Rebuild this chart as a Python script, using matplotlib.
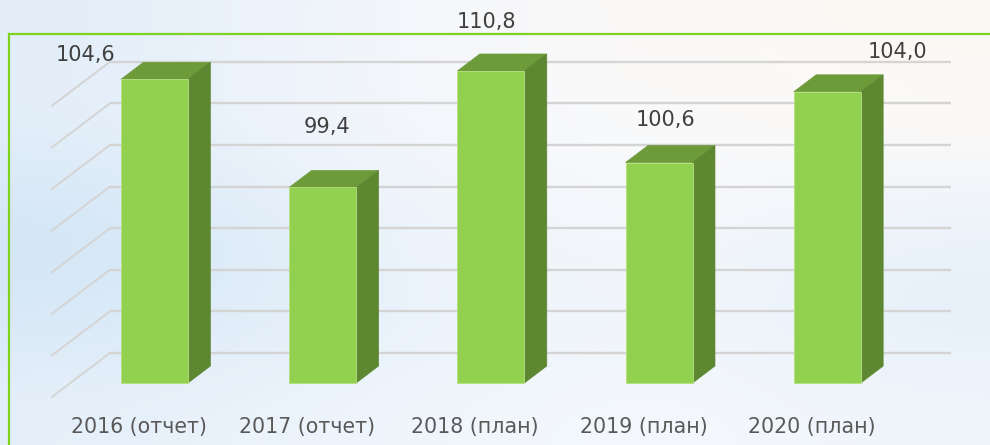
import numpy as np
import matplotlib
matplotlib.use('Agg')
import matplotlib.pyplot as plt
from matplotlib.patches import Polygon
from matplotlib.colors import to_rgb

# Data
categories = ['2016 (отчет)', '2017 (отчет)', '2018 (план)', '2019 (план)', '2020 (план)']
values = [104.6, 99.4, 110.8, 100.6, 104.0]
value_labels = ['104,6', '99,4', '110,8', '100,6', '104,0']
grid_ticks = [90, 92, 94, 96, 98, 100, 102, 104]
AXIS_MIN, AXIS_MAX = 90, 105

# Layout (pixels)
W, H = 990, 445
PX_CAT = 168.2      # pixels per category
PX_VAL = 20.8       # pixels per value unit
X0_PX = 136.0       # first category centre on the front floor edge
BASE_PX = 397       # AXIS_MIN on the front floor edge
DX = 58 / PX_CAT    # full floor depth
DY = 44 / PX_VAL
Z_FRONT, Z_BACK = 14 / 44, 31 / 44
BAR_W = 67 / PX_CAT

# label offsets from bar top (px): manual placement like in the source
label_dx = [-69, 4, -4.5, 6.5, 70.5]
label_dy = [24, 60.5, 48.5, 43, 40]

FRONT = '#92d050'
TOP = '#6e9b3a'
SIDE = '#5e8732'
GRID = '#d4d4d4'

plt.rcParams['font.family'] = ['DejaVu Sans']

fig = plt.figure(figsize=(W / 100, H / 100), dpi=100)

# background gradient
bg_rows = [
    ['#e3eef9', '#eef4fb', '#f8f8fa', '#fcf9f6', '#fdf8f4'],
    ['#e4eff9', '#f0f5fb', '#f7f9fc', '#fbfbfb', '#fcfaf8'],
    ['#d1e5f6', '#e4eff9', '#f2f6fb', '#f6f8fb', '#ecf3fa'],
    ['#d7e8f7', '#e2eef9', '#eef4fb', '#f2f6fb', '#e4eff9'],
    ['#e6f0fa', '#edf4fb', '#f2f7fc', '#f5f8fc', '#f0f5fb'],
]
bg_img = np.array([[to_rgb(c) for c in row] for row in bg_rows])
bg = fig.add_axes([0, 0, 1, 1])
bg.imshow(bg_img, aspect='auto', extent=[0, 1, 0, 1], interpolation='bicubic')
bg.axis('off')

ax = fig.add_axes([0, 0, 1, 1])
ax.patch.set_alpha(0)
ax.set_xlim(-X0_PX / PX_CAT, (W - X0_PX) / PX_CAT)
ax.set_ylim(AXIS_MIN - (H - BASE_PX) / PX_VAL, AXIS_MIN + BASE_PX / PX_VAL)
ax.axis('off')


def proj(x, v, z):
    return x + z * DX, v + z * DY


n = len(categories)
x = np.arange(n)
left_edge, right_edge = -0.5, n - 0.5

# back wall grid and left wall lines
for t in grid_ticks:
    p0 = proj(left_edge, t, 1)
    p1 = proj(right_edge, t, 1)
    ax.plot([p0[0], p1[0]], [p0[1], p1[1]], color=GRID, lw=1.7, zorder=1,
            solid_capstyle='butt')
    q = proj(left_edge, t, 0)
    ax.plot([p0[0], q[0]], [p0[1], q[1]], color=GRID, lw=1.4, zorder=1)

# bars
tops = np.minimum(values, AXIS_MAX)
xf, bf = proj(x, AXIS_MIN, Z_FRONT)
ax.bar(xf, tops - AXIS_MIN, width=BAR_W, bottom=bf, color=FRONT,
       edgecolor='#b3e07f', linewidth=0.6, zorder=3)

for i in range(n):
    xl, xr = x[i] - BAR_W / 2, x[i] + BAR_W / 2
    top_face = [proj(xl, tops[i], Z_FRONT), proj(xr, tops[i], Z_FRONT),
                proj(xr, tops[i], Z_BACK), proj(xl, tops[i], Z_BACK)]
    side_face = [proj(xr, AXIS_MIN, Z_FRONT), proj(xr, tops[i], Z_FRONT),
                 proj(xr, tops[i], Z_BACK), proj(xr, AXIS_MIN, Z_BACK)]
    ax.add_patch(Polygon(top_face, closed=True, facecolor=TOP, edgecolor=TOP,
                         lw=0.5, zorder=2))
    ax.add_patch(Polygon(side_face, closed=True, facecolor=SIDE, edgecolor=SIDE,
                         lw=0.5, zorder=2))

    # value label
    lx, ly = proj(x[i], tops[i], Z_FRONT)
    ax.annotate(value_labels[i], (lx, ly),
                xytext=(label_dx[i] * 0.72, label_dy[i] * 0.72),
                textcoords='offset points', ha='center', va='center',
                fontsize=15, color='#404040', zorder=5)

    # category label on the floor front edge
    ax.annotate(categories[i], (x[i], AXIS_MIN), xytext=(2, -30 * 0.72),
                textcoords='offset points', ha='center', va='center',
                fontsize=14.8, color='#595959', zorder=5)

# green frame
fy = (H - 34) / H
fx = 9 / W
fig.add_artist(plt.Line2D([fx, 1], [fy, fy], color='#7ed321', lw=1.6))
fig.add_artist(plt.Line2D([fx, fx], [0, fy], color='#7ed321', lw=1.6))

fig.savefig('out.png', dpi=100)
